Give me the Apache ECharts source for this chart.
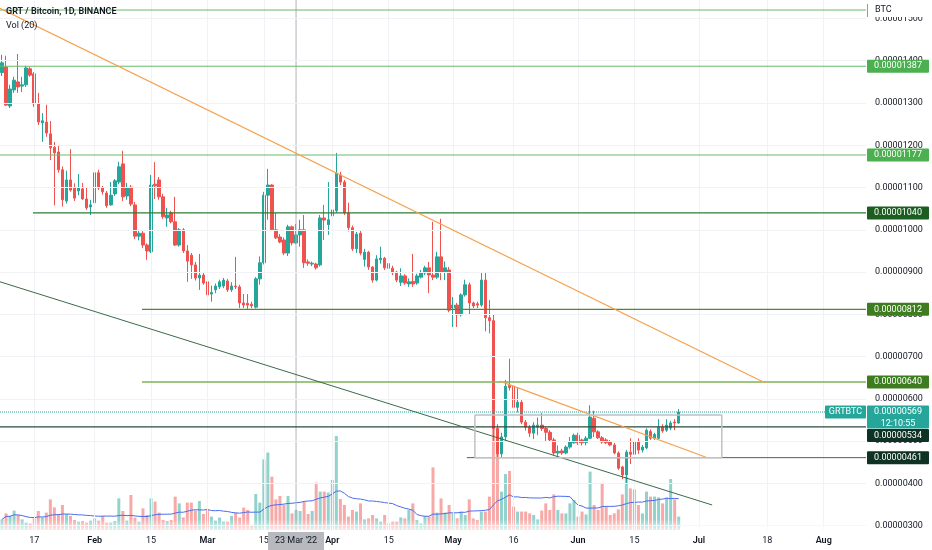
<!DOCTYPE html>
<html><head><meta charset="utf-8">
<script src="https://cdn.jsdelivr.net/npm/echarts@6/dist/echarts.min.js"></script>
<style>html,body{margin:0;padding:0;background:#fff}#c{width:932px;height:550px}</style>
</head><body><div id="c"></div>
<script>
// ---- data (prices in satoshi = 1e-8 BTC), daily candles from 2022-01-09 ----
const startDay = Date.UTC(2022, 0, 9);
const dayCount = 215; // axis runs to 2022-08-11
const opens = [1372,1385,1293,1331,1350,1340,1343,1381,1369,1298,1253,1255,1227,1195,1184,1142,1068,1118,1099,1092,
1097,1073,1054,1064,1135,1099,1087,1059,1085,1113,1156,1080,1101,1059,985,992,964,948,1108,1118,
1078,1028,1040,1019,964,1000,950,940,917,886,893,877,848,858,865,867,879,858,867,865,
827,826,824,817,884,922,1082,1106,1000,983,976,945,1007,969,988,1000,924,919,919,917,
1028,1012,1033,1045,1130,1113,1040,1005,955,992,930,947,912,881,929,933,920,909,900,876,
891,872,878,874,888,898,910,893,888,936,900,905,815,822,799,846,870,827,825,822,
881,792,785,530,470,510,632,630,580,592,545,533,519,533,538,530,521,503,472,477,
472,486,496,514,503,497,507,554,522,508,503,498,491,472,439,420,474,469,498,479,
484,523,507,507,533,526,531,545,543];
const closes = [1395,1295,1333,1354,1338,1343,1383,1366,1298,1255,1258,1229,1194,1182,1142,1071,1118,1094,1075,1099,
1073,1052,1059,1135,1099,1090,1057,1082,1116,1149,1078,1099,1061,985,992,964,950,1106,1104,1078,
1031,1035,1019,964,1000,950,926,917,886,893,874,846,852,867,877,881,858,867,865,827,
822,822,820,884,922,1082,1106,1000,981,971,945,1007,969,988,1000,922,921,921,910,1028,
1023,1024,1047,1134,1113,1040,1005,955,990,945,947,912,881,931,933,910,909,898,881,891,
874,877,872,891,898,910,893,888,936,900,910,810,822,799,846,870,827,820,822,881,
792,785,530,470,510,630,627,580,592,545,533,519,538,538,530,521,503,472,476,472,
486,498,514,496,496,507,557,522,508,498,496,491,472,436,420,474,469,498,479,486,
526,507,516,533,524,538,543,543,569];
const highs = [1414,1412,1343,1362,1416,1362,1388,1385,1373,1324,1276,1296,1257,1208,1200,1150,1140,1191,1110,1132,
1111,1099,1071,1158,1142,1104,1092,1113,1120,1161,1187,1111,1106,1066,1000,997,968,1130,1160,1125,
1085,1052,1045,1078,1004,1004,964,945,924,943,898,880,868,873,882,886,884,876,936,870,
848,848,830,888,937,1090,1144,1108,1040,990,982,1012,1010,1014,1024,1035,930,925,922,1035,
1059,1113,1066,1182,1137,1118,1064,1010,995,998,955,950,914,940,960,936,925,915,903,909,
895,885,943,896,905,915,924,1019,948,1026,925,912,841,827,850,882,875,830,830,900,
900,834,800,540,520,645,695,660,628,597,550,538,545,556,567,533,526,508,490,482,
490,510,518,520,506,512,585,572,526,512,507,503,496,476,442,479,507,503,507,491,
530,528,520,552,540,552,548,552,576];
const lows = [1364,1293,1288,1324,1324,1326,1338,1362,1291,1248,1208,1220,1165,1058,1135,1055,1062,1090,1068,1082,
1071,1047,1035,1059,1094,1083,1052,1057,1080,1108,1068,1071,1056,978,975,957,929,945,1073,1071,
1026,1007,1015,962,960,945,877,884,880,858,870,843,830,850,860,862,853,853,860,815,
815,813,815,814,870,918,1024,997,978,968,940,938,963,966,960,910,915,914,906,913,
976,988,981,1040,1106,1035,996,950,945,940,913,905,875,878,920,905,898,893,876,867,
870,865,865,870,885,893,850,881,884,881,881,805,770,770,795,842,800,815,815,818,
760,755,500,461,461,500,620,570,568,540,525,510,505,514,524,500,498,466,465,468,
469,482,494,491,490,490,505,510,505,494,493,488,469,432,410,398,446,465,470,473,
481,503,503,505,520,522,526,526,541];
const volumes = [5.3,8.3,7.0,9.7,7.5,5.3,3.7,3.3,5.8,9.5,6.3,8.7,15.3,11.3,8.0,12.5,8.0,7.0,5.0,4.2,
4.5,3.7,4.7,5.8,4.7,7.0,3.7,3.7,4.5,15.8,9.5,4.7,17.5,6.2,4.2,10.8,7.5,15.8,14.2,8.7,
5.0,4.5,5.0,16.7,13.3,6.3,13.7,13.7,9.7,14.5,8.0,10.0,6.7,4.7,6.2,4.2,4.2,7.0,8.7,6.2,
11.2,10.0,2.5,18.0,13.7,35.3,38.7,26.7,15.3,17.0,12.5,17.0,8.3,10.0,9.5,14.2,8.0,9.5,23.7,19.2,
19.2,18.7,25.0,47.0,15.5,12.5,6.7,10.0,9.2,13.3,5.3,5.8,7.5,5.8,4.2,7.5,3.3,4.2,4.2,6.3,
5.8,10.0,13.3,5.0,3.3,7.0,6.7,31.3,8.7,15.8,8.7,12.5,8.3,5.8,9.2,7.5,15.3,5.8,5.0,9.2,
9.2,16.7,60.0,45.0,19.2,28.0,29.5,11.7,9.2,9.2,9.2,8.3,7.5,5.3,9.7,13.3,10.0,17.8,10.0,8.3,
8.3,13.3,15.0,6.7,9.2,7.8,29.2,12.5,10.0,23.0,11.7,7.5,8.3,10.3,17.8,26.7,20.8,20.3,12.5,8.3,
19.2,16.7,16.7,16.3,13.3,16.2,25.5,15.3,6.7];
const priceTicks = [300,400,500,600,700,800,900,1000,1100,1200,1300,1400,1500];
const dateTickIdx = [8,23,37,51,65,82,96,112,127,143,157,173,190,204];
const dateTickText = ['17','Feb','15','Mar','15','Apr','15','May','16','Jun','15','Jul','18','Aug'];
const lastPrice = 569;
const crossIdx = 73; const crossText = "23 Mar '22";
// horizontal levels drawn on the chart: [price, start index]
const levels = [[1520,-0.5],[1387,-0.5],[1177,-0.5],[1040,7.7],[812,34.75],[640,34.75],[534,-0.5],[461,115.4]];
// trendlines in data coords [index, price]
const orangeLong = [[-0.5,1524],[189.4,638]];
const orangeShort = [[123.6,642],[174.8,462]];
const greenDiag = [[-0.5,877],[176.3,349]];
const boxPts = [[117.4,562],[178.7,461]];

const dates = [];
for (let k = 0; k < dayCount; k++) dates.push(new Date(startDay + k * 86400000).toISOString().slice(0, 10));
const candles = opens.map((o, i) => [o, closes[i], lows[i], highs[i]]);
const UP = '#26a69a', DOWN = '#ef5350';
const volData = volumes.map((v, i) => ({ value: v, itemStyle: { color: closes[i] >= opens[i] ? 'rgba(38,166,154,0.5)' : 'rgba(239,83,80,0.5)' } }));
// Vol (20): 20-day simple moving average of the volume bars
const volMA = volumes.map((_, i) => { const w = volumes.slice(Math.max(0, i - 19), i + 1); return +(w.reduce((a, b) => a + b, 0) / w.length).toFixed(2); });

const FONT = 'Roboto';
const FS = 9;
const YMIN = 285.1, YMAX = 1543.7;
const chart = echarts.init(document.getElementById('c'), null, { renderer: 'canvas' });

function seg(pts, color, width, type, z) {
  return { type: 'line', xAxisIndex: 1, yAxisIndex: 0, data: pts, showSymbol: false, symbol: 'none', silent: true,
    animation: false, lineStyle: { color, width, type: type || 'solid' }, z: z || 5, clip: false };
}
const levelColors = ['#66bb6a','#66bb6a','#66bb6a','#2e7d32','#4f8a2b','#7cb35a','#2c4a3a','#555b5a'];
const levelWidths = [1,1,1,1.2,1.2,1.6,1.2,1];
const series = [
  { type: 'line', xAxisIndex: 1, yAxisIndex: 0, data: [], silent: true, z: 0,
    markLine: { silent: true, symbol: 'none', animation: false, label: { show: false },
      lineStyle: { color: '#f0f2f5', width: 1, type: 'solid' },
      data: priceTicks.map(v => ({ yAxis: v })).concat(dateTickIdx.map(i => ({ xAxis: i }))) } },
  { type: 'bar', xAxisIndex: 2, yAxisIndex: 1, data: volData, barWidth: 3, animation: false, z: 1, silent: true },
  { type: 'line', xAxisIndex: 2, yAxisIndex: 1, data: volMA, showSymbol: false, symbol: 'none', animation: false,
    lineStyle: { color: '#4a6cf0', width: 1 }, z: 2, silent: true },
  { type: 'candlestick', xAxisIndex: 0, yAxisIndex: 0, data: candles, barWidth: 3, animation: false, z: 3, silent: true,
    itemStyle: { color: UP, color0: DOWN, borderColor: UP, borderColor0: DOWN, borderWidth: 1 } },
  seg([[crossIdx, YMIN], [crossIdx, YMAX]], '#b0b3ba', 1, 'solid', 4),
  seg([[-0.5, lastPrice], [214.5, lastPrice]], '#26a69a', 1, 'dotted', 5),
];
levels.forEach((l, k) => series.push(seg([[l[1], l[0]], [214.5, l[0]]], levelColors[k], levelWidths[k], 'solid', 6)));
series.push(seg(orangeLong, '#f6a04d', 1.2, 'solid', 6));
series.push(seg(orangeShort, '#f6a04d', 1.2, 'solid', 6));
series.push(seg(greenDiag, '#3c6a48', 1, 'solid', 6));
series.push(seg([[boxPts[0][0], boxPts[0][1]], [boxPts[1][0], boxPts[0][1]], [boxPts[1][0], boxPts[1][1]], [boxPts[0][0], boxPts[1][1]], [boxPts[0][0], boxPts[0][1]]], '#bfc1c6', 1.5, 'solid', 6));

chart.setOption({
  animation: false,
  backgroundColor: '#ffffff',
  grid: [
    { left: 0, right: 66, top: 0, bottom: 18 },
    { left: 0, right: 66, top: 330, bottom: 20 }
  ],
  xAxis: [
    { type: 'category', gridIndex: 0, data: dates, boundaryGap: true,
      axisLine: { show: false }, axisTick: { show: false }, splitLine: { show: false },
      axisLabel: { margin: 4, color: '#131722', fontFamily: FONT, fontSize: FS, hideOverlap: false,
        interval: (idx) => dateTickIdx.indexOf(idx) >= 0,
        formatter: (val, idx) => { const k = dateTickIdx.indexOf(idx); const t = k >= 0 ? dateTickText[k] : ''; return /^\d/.test(t) ? t : '{m|' + t + '}'; },
        rich: { m: { fontWeight: 600, color: '#131722', fontFamily: FONT, fontSize: FS } } } },
    { type: 'value', gridIndex: 0, min: -0.5, max: 214.5, show: false },
    { type: 'category', gridIndex: 1, data: dates, boundaryGap: true, show: false }
  ],
  yAxis: [
    { type: 'value', gridIndex: 0, position: 'right', min: YMIN, max: YMAX, scale: true,
      axisLine: { show: false }, axisTick: { show: false }, splitLine: { show: false },
      axisLabel: { customValues: priceTicks, align: 'left', margin: 9, color: '#131722', fontFamily: FONT, fontSize: FS,
        formatter: v => (v / 1e8).toFixed(8) } },
    { type: 'value', gridIndex: 1, min: 0, max: 100, show: false }
  ],
  series
});

// ---- overlays placed through the chart's own scales ----
const py = v => chart.convertToPixel({ yAxisIndex: 0 }, v);
const pxi = i => chart.convertToPixel({ xAxisIndex: 0 }, dates[i]);
const G = [];
function tag(top, h, bg, lines, x, w) {
  G.push({ type: 'rect', z: 100, shape: { x: x, y: top, width: w, height: h, r: 1 }, style: { fill: bg } });
  lines.forEach((t, k) => G.push({ type: 'text', z: 101, x: x + w / 2, y: top + 6.5 + k * 11.5,
    style: { text: t, fill: '#ffffff', fontSize: FS, fontFamily: FONT, align: 'center', verticalAlign: 'middle' } }));
}
const fmt = v => (v / 1e8).toFixed(8);
// soft fade at the foot of the volume bars
G.push({ type: 'rect', z: 50, shape: { x: 0, y: 519, width: 866, height: 13 },
  style: { fill: new echarts.graphic.LinearGradient(0, 0, 0, 1, [{ offset: 0, color: 'rgba(255,255,255,0)' }, { offset: 1, color: 'rgba(255,255,255,0.85)' }]) } });
// BTC currency label over the top of the price scale
G.push({ type: 'rect', z: 99, shape: { x: 867, y: 0, width: 65, height: 17 }, style: { fill: '#ffffff' } });
G.push({ type: 'line', z: 100, shape: { x1: 867.5, y1: 4, x2: 867.5, y2: 17 }, style: { stroke: '#66bb6a', lineWidth: 1 } });
G.push({ type: 'text', z: 101, x: 875, y: 10, style: { text: 'BTC', fill: '#131722', fontSize: FS, fontFamily: FONT, verticalAlign: 'middle' } });
const tagSpec = [[1387, '#4caf50'], [1177, '#4caf50'], [1040, '#1b5e20'], [812, '#3e7d1f'], [640, '#3e7d1f'], [461, '#0e3324']];
tagSpec.forEach(s => tag(py(s[0]) - 6.5, 13, s[1], [fmt(s[0])], 867, 62));
const yLast = py(lastPrice);
tag(yLast - 6.5, 23, '#26a69a', [fmt(lastPrice), '12:10:55'], 867, 62);
tag(yLast + 17, 13, '#0e3324', [fmt(534)], 867, 62);
tag(yLast - 6.5, 13, '#26a69a', ['GRTBTC'], 825, 41);
// crosshair date label
const xc = pxi(crossIdx);
G.push({ type: 'rect', z: 100, shape: { x: xc - 28, y: 532, width: 56, height: 18 }, style: { fill: '#b7b9bf' } });
G.push({ type: 'text', z: 101, x: xc, y: 541, style: { text: crossText, fill: '#131722', fontSize: FS, fontFamily: FONT, align: 'center', verticalAlign: 'middle' } });
// legend texts
G.push({ type: 'text', z: 101, x: 6, y: 12, style: { text: 'GRT / Bitcoin, 1D, BINANCE', fill: '#131722', fontSize: FS, fontWeight: 600, fontFamily: FONT, verticalAlign: 'middle' } });
G.push({ type: 'text', z: 101, x: 6, y: 26, style: { text: 'Vol (20)', fill: '#131722', fontSize: FS, fontFamily: FONT, verticalAlign: 'middle' } });
chart.setOption({ graphic: G });
</script></body></html>
